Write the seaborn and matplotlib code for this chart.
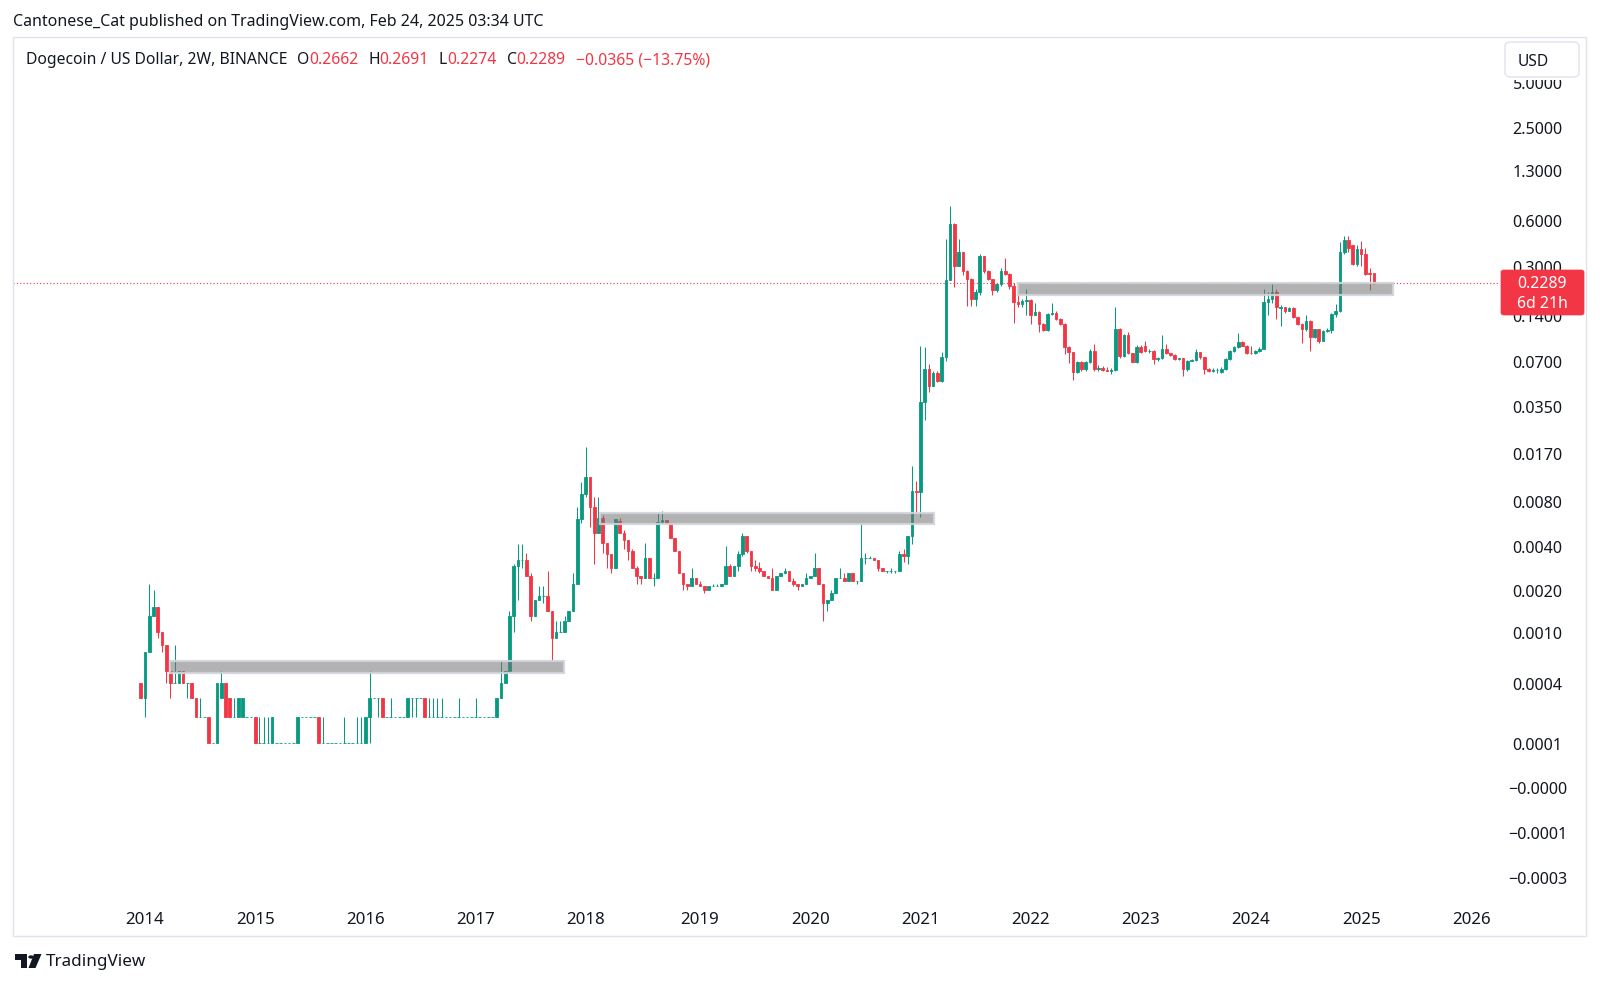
import numpy as np
import pandas as pd
import matplotlib
matplotlib.use("Agg")
import matplotlib.pyplot as plt
from matplotlib.patches import Rectangle, FancyBboxPatch, Circle, Polygon
import seaborn as sns

# ---------------- data (2W candles, DOGE/USD) ----------------
first_bar = "2013-12-23"
bar_days = 14

opens = [
 .0004,.0003,.0007,.0013,.0015,.0010,.0008,.0005,.0004,.0004,
 .0005,.0004,.0004,.0003,.0002,.0002,.0002,.0001,.0001,.0003,
 .0004,.0003,.0002,.0002,.0002,.0002,.0002,.0002,.0001,.0001,
 .0001,.0001,.0001,.0001,.0001,.0001,.0001,.0001,.0002,.0002,
 .0002,.0002,.0002,.0001,.0001,.0001,.0001,.0001,.0001,.0001,
 .0001,.0001,.0001,.0001,.0002,.0003,.0003,.0003,.0002,.0002,
 .0002,.0002,.0002,.0002,.0003,.0003,.0003,.0003,.0002,.0002,
 .0002,.0002,.0002,.0002,.0002,.0002,.0002,.0002,.0002,.0002,
 .0002,.0002,.0002,.0002,.0002,.0003,.0004,.0005,.0013,.0029,
 .0032,.0032,.0025,.0013,.0017,.0018,.0018,.0014,.0009,.0010,
 .0010,.0012,.0014,.0022,.0061,.0090,.0116,.0073,.0049,.0062,
 .0042,.0035,.0028,.0059,.0049,.0044,.0037,.0028,.0025,.0024,
 .0033,.0024,.0024,.0058,.0060,.0057,.0045,.0037,.0026,.0022,
 .0021,.0024,.0022,.0021,.0020,.0021,.0021,.0021,.0022,.0029,
 .0025,.0029,.0035,.0047,.0037,.0029,.0028,.0027,.0025,.0024,
 .0020,.0025,.0026,.0027,.0023,.0022,.0021,.0022,.0024,.0025,
 .0028,.0022,.0016,.0017,.0019,.0024,.0024,.0023,.0026,.0023,
 .0023,.0033,.0033,.0033,.0032,.0028,.0027,.0027,.0027,.0027,
 .0035,.0034,.0047,.0094,.0093,.0369,.0615,.0476,.0580,.0510,
 .0735,.2400,.5680,.3000,.3710,.2770,.2450,.1800,.2000,.3490,
 .2770,.2450,.2050,.2270,.2770,.2650,.2200,.1710,.1660,.1740,
 .1780,.1400,.1470,.1220,.1110,.1430,.1450,.1320,.1220,.0858,
 .0797,.0584,.0680,.0615,.0680,.0810,.0615,.0620,.0610,.0600,
 .0605,.1135,.0750,.1040,.0780,.0680,.0860,.0880,.0810,.0810,
 .0720,.0730,.0830,.0780,.0760,.0720,.0725,.0615,.0700,.0710,
 .0797,.0735,.0615,.0600,.0605,.0590,.0615,.0720,.0810,.0860,
 .0930,.0880,.0790,.0780,.0810,.0840,.1710,.1800,.2000,.1560,
 .1580,.1500,.1570,.1360,.1220,.1130,.1290,.1000,.1130,.0950,
 .1100,.1120,.1430,.1500,.3680,.4420,.4100,.3070,.3870,.3600,
 .2680,.2662]
highs = [
 .0004,.0007,.0022,.0020,.0015,.0010,.0008,.0006,.0008,.0005,
 .0005,.0004,.0004,.0003,.0003,.0002,.0002,.0001,.0004,.0005,
 .0004,.0003,.0003,.0003,.0003,.0002,.0002,.0002,.0002,.0002,
 .0002,.0002,.0001,.0001,.0001,.0001,.0001,.0002,.0002,.0002,
 .0002,.0002,.0002,.0002,.0001,.0001,.0001,.0001,.0002,.0001,
 .0001,.0002,.0002,.0002,.0005,.0003,.0003,.0003,.0002,.0003,
 .0002,.0002,.0002,.0003,.0003,.0003,.0003,.0003,.0003,.0003,
 .0003,.0003,.0002,.0002,.0002,.0003,.0002,.0002,.0002,.0003,
 .0002,.0002,.0002,.0002,.0003,.0006,.0005,.0014,.0030,.0041,
 .0041,.0036,.0026,.0017,.0021,.0021,.0027,.0014,.0012,.0012,
 .0013,.0014,.0026,.0073,.0108,.0185,.0116,.0085,.0085,.0065,
 .0042,.0035,.0061,.0062,.0051,.0044,.0038,.0029,.0025,.0042,
 .0033,.0026,.0068,.0069,.0060,.0057,.0045,.0037,.0026,.0022,
 .0028,.0024,.0023,.0021,.0021,.0022,.0022,.0022,.0040,.0030,
 .0029,.0037,.0049,.0047,.0037,.0032,.0031,.0027,.0025,.0028,
 .0025,.0026,.0028,.0027,.0024,.0022,.0022,.0026,.0025,.0036,
 .0028,.0022,.0017,.0020,.0024,.0028,.0026,.0026,.0026,.0023,
 .0056,.0036,.0034,.0033,.0032,.0028,.0027,.0028,.0027,.0037,
 .0038,.0047,.0139,.0110,.0879,.0860,.0660,.0600,.0600,.0800,
 .4510,.7514,.5800,.4510,.3710,.2800,.2500,.2100,.3600,.3500,
 .2800,.2450,.2300,.2900,.3390,.2700,.2300,.2200,.1800,.2100,
 .1800,.1700,.1500,.1250,.1450,.1700,.1500,.1350,.1250,.0880,
 .0800,.0690,.0700,.0690,.0830,.0900,.0650,.0640,.0630,.0620,
 .1580,.1150,.1050,.1080,.0790,.0890,.0890,.0940,.0830,.0820,
 .0740,.1040,.0900,.0790,.0770,.0730,.0730,.0710,.0720,.0830,
 .0800,.0740,.0620,.0620,.0620,.0630,.0730,.0820,.0870,.1070,
 .0940,.0890,.0880,.0820,.0860,.2090,.2000,.2270,.2100,.1650,
 .1600,.1580,.1600,.1370,.1240,.1400,.1300,.1140,.1140,.1110,
 .1150,.1450,.1670,.4300,.4740,.4740,.4100,.4100,.4400,.3960,
 .2900,.2691]
lows = [
 .0003,.0002,.0007,.0013,.0009,.0007,.0004,.0003,.0004,.0004,
 .0004,.0003,.0003,.0002,.0002,.0002,.0001,.0001,.0001,.0003,
 .0002,.0002,.0002,.0002,.0002,.0002,.0002,.0001,.0001,.0001,
 .0001,.0001,.0001,.0001,.0001,.0001,.0001,.0001,.0002,.0002,
 .0002,.0002,.0001,.0001,.0001,.0001,.0001,.0001,.0001,.0001,
 .0001,.0001,.0001,.0001,.0001,.0003,.0002,.0002,.0002,.0002,
 .0002,.0002,.0002,.0002,.0002,.0002,.0003,.0002,.0002,.0002,
 .0002,.0002,.0002,.0002,.0002,.0002,.0002,.0002,.0002,.0002,
 .0002,.0002,.0002,.0002,.0002,.0003,.0004,.0005,.0010,.0017,
 .0028,.0025,.0012,.0013,.0017,.0016,.0014,.0006,.0009,.0010,
 .0010,.0012,.0014,.0022,.0057,.0085,.0054,.0030,.0049,.0036,
 .0028,.0026,.0028,.0049,.0038,.0032,.0028,.0022,.0022,.0024,
 .0024,.0021,.0024,.0057,.0057,.0045,.0037,.0026,.0020,.0020,
 .0021,.0022,.0021,.0019,.0020,.0021,.0021,.0021,.0022,.0025,
 .0025,.0027,.0034,.0036,.0027,.0027,.0026,.0025,.0024,.0020,
 .0020,.0025,.0026,.0023,.0021,.0020,.0021,.0022,.0024,.0025,
 .0022,.0012,.0014,.0017,.0019,.0024,.0023,.0023,.0023,.0022,
 .0023,.0030,.0033,.0032,.0027,.0027,.0026,.0026,.0026,.0027,
 .0031,.0030,.0041,.0068,.0063,.0280,.0430,.0476,.0500,.0500,
 .0700,.2400,.2150,.3000,.2600,.1620,.1620,.1620,.1900,.2700,
 .2400,.1900,.2000,.2200,.2600,.2100,.1250,.1600,.1600,.1400,
 .1220,.1400,.1080,.1100,.1100,.1400,.1300,.1200,.0770,.0675,
 .0516,.0580,.0600,.0600,.0670,.0600,.0600,.0600,.0600,.0570,
 .0600,.0730,.0740,.0770,.0680,.0670,.0780,.0800,.0790,.0660,
 .0700,.0720,.0770,.0750,.0710,.0710,.0550,.0600,.0690,.0700,
 .0720,.0570,.0590,.0590,.0580,.0580,.0610,.0710,.0800,.0850,
 .0870,.0770,.0770,.0770,.0800,.0830,.1400,.1700,.1320,.1190,
 .1450,.1490,.1350,.1200,.0920,.1100,.0810,.0990,.0920,.0940,
 .1080,.1070,.1360,.1480,.3600,.3700,.3050,.3000,.3000,.2600,
 .2050,.2274]
closes = [
 .0003,.0007,.0013,.0015,.0010,.0008,.0005,.0004,.0004,.0005,
 .0004,.0004,.0003,.0002,.0002,.0002,.0001,.0001,.0004,.0004,
 .0002,.0002,.0002,.0003,.0003,.0002,.0002,.0001,.0001,.0001,
 .0001,.0002,.0001,.0001,.0001,.0001,.0001,.0002,.0002,.0002,
 .0002,.0002,.0001,.0001,.0001,.0001,.0001,.0001,.0001,.0001,
 .0001,.0001,.0001,.0002,.0003,.0003,.0003,.0002,.0002,.0002,
 .0002,.0002,.0002,.0003,.0003,.0003,.0003,.0002,.0002,.0002,
 .0002,.0002,.0002,.0002,.0002,.0002,.0002,.0002,.0002,.0002,
 .0002,.0002,.0002,.0002,.0003,.0004,.0005,.0013,.0029,.0032,
 .0032,.0025,.0013,.0017,.0018,.0018,.0014,.0009,.0010,.0010,
 .0012,.0014,.0022,.0061,.0090,.0116,.0073,.0049,.0062,.0042,
 .0035,.0028,.0061,.0049,.0044,.0037,.0028,.0025,.0024,.0033,
 .0024,.0024,.0058,.0060,.0057,.0045,.0037,.0026,.0022,.0021,
 .0024,.0022,.0021,.0020,.0021,.0021,.0021,.0022,.0029,.0025,
 .0029,.0035,.0047,.0037,.0029,.0028,.0027,.0025,.0024,.0020,
 .0025,.0026,.0027,.0023,.0022,.0021,.0022,.0024,.0025,.0028,
 .0022,.0016,.0017,.0019,.0024,.0024,.0023,.0026,.0023,.0023,
 .0033,.0033,.0033,.0032,.0028,.0027,.0027,.0027,.0027,.0035,
 .0034,.0047,.0094,.0093,.0369,.0615,.0476,.0580,.0510,.0735,
 .2400,.5680,.3000,.3710,.2770,.2450,.1800,.2000,.3490,.2770,
 .2450,.2050,.2270,.2770,.2650,.2200,.1710,.1660,.1740,.1780,
 .1400,.1470,.1220,.1110,.1430,.1450,.1320,.1220,.0858,.0797,
 .0584,.0680,.0615,.0680,.0810,.0615,.0620,.0610,.0600,.0605,
 .1135,.0750,.1040,.0780,.0680,.0860,.0800,.0810,.0815,.0720,
 .0730,.0830,.0780,.0760,.0720,.0725,.0615,.0700,.0710,.0797,
 .0735,.0615,.0600,.0605,.0610,.0615,.0720,.0810,.0860,.0930,
 .0880,.0780,.0780,.0810,.0840,.1710,.1800,.2000,.1580,.1580,
 .1500,.1570,.1360,.1220,.1130,.1290,.1000,.1130,.0950,.1100,
 .1120,.1430,.1500,.3680,.4420,.3960,.3070,.3870,.3600,.2650,
 .2654,.2289]

# drawn support/resistance zones (time span and price band)
zone_start = ["2014-03-31", "2018-02-18", "2021-11-29"]
zone_end = ["2017-10-22", "2021-02-26", "2025-04-21"]
zone_low = [0.00048, 0.00560, 0.1900]
zone_high = [0.00060, 0.00668, 0.2300]

# price scale labels as shown by the chart
ytick_vals = [5.0, 2.5, 1.3, 0.6, 0.3, 0.14, 0.07, 0.035, 0.017, 0.008, 0.004,
              0.002, 0.001, 0.0004, 0.0001, 0.0000025, -0.000049, -0.0000745]
ytick_labels = ["5.0000", "2.5000", "1.3000", "0.6000", "0.3000", "0.1400",
                "0.0700", "0.0350", "0.0170", "0.0080", "0.0040", "0.0020",
                "0.0010", "0.0004", "0.0001", "\u22120.0000", "\u22120.0001",
                "\u22120.0003"]
year_labels = list(range(2014, 2027))

symbol_title = "Dogecoin / US Dollar, 2W, BINANCE"
publish_line = "Cantonese_Cat published on TradingView.com, Feb 24, 2025 03:34 UTC"
time_left = "6d 21h"

# ---------------- style ----------------
sns.set_theme(style="white")
plt.rcParams["font.family"] = ["Noto Sans", "DejaVu Sans"]
DARK = "#131722"
UP = "#089981"
DOWN = "#f23645"
FS = 11.2

W, H = 1600, 987
fig = plt.figure(figsize=(W / 100, H / 100), dpi=100)
fig.patch.set_facecolor("white")

def fx(px):
    return px / W

def fy(py):
    return 1 - py / H

L, R, T, B = 13, 1500, 38, 897
ax = fig.add_axes([fx(L), fy(B), fx(R) - fx(L), (B - T) / H])
ax.set_facecolor("white")
for s in ax.spines.values():
    s.set_visible(False)

K = 0.0001
ax.set_yscale("function", functions=(lambda p: np.log(np.maximum(p + K, 1e-12)),
                                     lambda t: np.exp(t) - K))

df = pd.DataFrame({"open": opens, "high": highs, "low": lows, "close": closes})
t0 = pd.Timestamp(first_bar)
df["date"] = t0 + pd.to_timedelta(np.arange(len(df)) * bar_days, unit="D")
df["i"] = np.arange(len(df))
up = df["close"] >= df["open"]
cols = np.where(up, UP, DOWN)

ax.vlines(df["i"], df["low"], df["high"], colors=cols, lw=0.75, zorder=2)
bottoms = np.minimum(df["open"], df["close"])
heights = np.abs(df["close"] - df["open"])
ax.bar(df["i"], heights, bottom=bottoms, width=0.62, color=cols,
       edgecolor=cols, linewidth=0.6, zorder=3)

def to_idx(d):
    return (pd.Timestamp(d) - t0) / pd.Timedelta(days=bar_days)

for s, e, lo, hi in zip(zone_start, zone_end, zone_low, zone_high):
    x0, x1 = to_idx(s), to_idx(e)
    ax.add_patch(Rectangle((x0, lo), x1 - x0, hi - lo, facecolor=(0.45, 0.45, 0.45, 0.55),
                           edgecolor=(0.82, 0.83, 0.86, 0.9), linewidth=1.6, zorder=4))

last_close = closes[-1]
ax.axhline(last_close, color=DOWN, lw=0.8, ls=(0, (1, 2)), zorder=1)

ax.set_xlim(-30.16, 320.77)
ax.set_ylim(np.exp(-10.8616) - K, np.exp(2.2992) - K)

# x ticks at first bar of each year
all_dates = t0 + pd.to_timedelta(np.arange(340) * bar_days, unit="D")
year_idx = [int(np.argmax(all_dates.year == y)) for y in year_labels]
ax.set_xticks(year_idx)
ax.set_xticklabels([str(y) for y in year_labels])
ax.tick_params(axis="x", length=0, pad=16.4, labelsize=12.2, colors=DARK)
for lab in ax.get_xticklabels():
    lab.set_verticalalignment("center")

ax.yaxis.tick_right()
ax.set_yticks(ytick_vals)
ax.set_yticklabels(ytick_labels)
ax.yaxis.set_minor_locator(matplotlib.ticker.NullLocator())
ax.tick_params(axis="y", length=0, pad=27.0, labelsize=11.6, colors=DARK)
for lab in ax.get_yticklabels():
    lab.set_horizontalalignment("center")
ax.grid(False)

# price-scale top clip (labels are hidden above the scale area)
fig.add_artist(Rectangle((fx(1501), fy(81)), fx(1585) - fx(1501), (81 - 39) / H,
                         transform=fig.transFigure, facecolor="white",
                         edgecolor="none", zorder=2))

# pane frame
fig.add_artist(Rectangle((fx(13), fy(937)), fx(1586) - fx(13), (937 - 38) / H,
                         transform=fig.transFigure, fill=False, edgecolor="#e0e3eb",
                         linewidth=1.0, zorder=3))

# USD box
fig.add_artist(FancyBboxPatch((fx(1505), fy(78)), fx(1579) - fx(1505), (78 - 43) / H,
                              boxstyle="round,pad=0,rounding_size=0.004",
                              transform=fig.transFigure, facecolor="white",
                              edgecolor="#e0e3eb", linewidth=1.0, zorder=5))
fig.text(fx(1533), fy(62), "USD", ha="center", va="center", fontsize=FS,
         color=DARK, zorder=6)

# last price label
fig.add_artist(FancyBboxPatch((fx(1501), fy(316)), fx(1584) - fx(1501), (316 - 271) / H,
                              boxstyle="round,pad=0,rounding_size=0.002",
                              transform=fig.transFigure, facecolor=DOWN,
                              edgecolor=DOWN, linewidth=0.5, zorder=5))
fig.text(fx(1542), fy(284), f"{last_close:.4f}", ha="center", va="center",
         fontsize=11.4, color="white", fontweight="bold", zorder=6)
fig.text(fx(1542), fy(304), time_left, ha="center", va="center",
         fontsize=11.4, color="white", fontweight="bold", zorder=6)

# header texts
fig.text(fx(13), fy(21.5), publish_line, ha="left", va="center", fontsize=11.5, color=DARK)

renderer = fig.canvas.get_renderer()
o, h, l, c = opens[-1], highs[-1], lows[-1], closes[-1]
chg = c - closes[-2]
pct = chg / closes[-2] * 100
pieces = [(symbol_title, DARK, 9.5), ("O", DARK, 0), (f"{o:.4f}", DOWN, 10),
          ("H", DARK, 0), (f"{h:.4f}", DOWN, 10), ("L", DARK, 0), (f"{l:.4f}", DOWN, 10),
          ("C", DARK, 0), (f"{c:.4f}", DOWN, 10),
          (f"{chg:+.4f} ({pct:+.2f}%)".replace("-", "\u2212"), DOWN, 0)]
x = 25.5
for txt, col, gap in pieces:
    t = fig.text(fx(x), fy(60.5), txt, ha="left", va="center", fontsize=11.3, color=col)
    bb = t.get_window_extent(renderer)
    x += bb.width + gap

# TradingView logo + wordmark
logo_col = DARK
def poly(pts):
    return Polygon([(fx(a), fy(b)) for a, b in pts], closed=True,
                   transform=fig.transFigure, facecolor=logo_col, edgecolor="none")
fig.add_artist(poly([(15, 955), (27, 955), (27, 961), (15, 961)]))
fig.add_artist(poly([(21, 955), (27, 955), (27, 969), (21, 969)]))
fig.add_artist(Circle((fx(31), fy(958)), 2.7 / W, transform=fig.transFigure,
                      facecolor=logo_col, edgecolor="none"))
fig.add_artist(poly([(34, 955), (41.5, 955), (35.5, 969), (28.5, 969)]))
fig.text(fx(46), fy(962), "TradingView", ha="left", va="center", fontsize=12.3,
         color=DARK)

fig.savefig("out.png", dpi=100, facecolor="white")
